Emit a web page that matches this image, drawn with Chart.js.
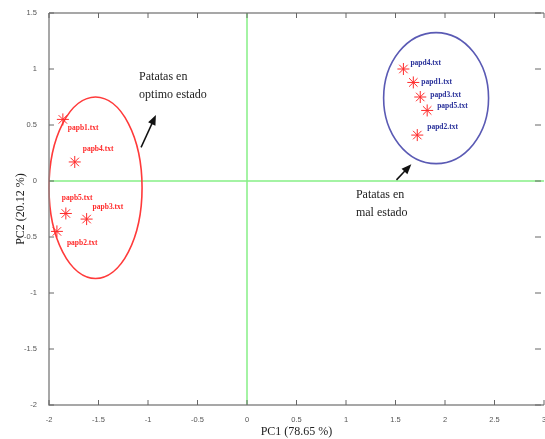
<!DOCTYPE html>
<html>
<head>
<meta charset="utf-8">
<script src="https://cdn.jsdelivr.net/npm/chart.js@4"></script>
<style>
  html, body { margin: 0; padding: 0; background: #fff; }
  #wrap { width: 545px; height: 439px; overflow: hidden; }
  #inner { width: 551px; height: 439px; }
</style>
</head>
<body>
<div id="wrap"><div id="inner"><canvas id="pca"></canvas></div></div>
<script>
// PCA scores
const goodNames = ['papb1.txt', 'papb4.txt', 'papb5.txt', 'papb3.txt', 'papb2.txt'];
const goodPC1 = [-1.86, -1.74, -1.83, -1.62, -1.92];
const goodPC2 = [0.55, 0.17, -0.29, -0.34, -0.45];

const badNames = ['papd4.txt', 'papd1.txt', 'papd3.txt', 'papd5.txt', 'papd2.txt'];
const badPC1 = [1.58, 1.68, 1.75, 1.82, 1.72];
const badPC2 = [1.00, 0.88, 0.75, 0.63, 0.41];

const xTicks = [-2, -1.5, -1, -0.5, 0, 0.5, 1, 1.5, 2, 2.5, 3];
const yTicks = [-2, -1.5, -1, -0.5, 0, 0.5, 1, 1.5];

// group ellipses: [centre pc1, centre pc2, radius pc1, radius pc2]
const goodEllipse = [-1.53, -0.06, 0.47, 0.81];
const badEllipse = [1.91, 0.74, 0.53, 0.585];

// annotations (data units)
const goodNote = ['Patatas en', 'optimo estado'];
const goodNoteAt = [-1.09, 0.93];
const goodArrow = [-1.07, 0.30, -0.92, 0.59];
const badNote = ['Patatas en', 'mal estado'];
const badNoteAt = [1.10, -0.125];
const badArrow = [1.51, 0.01, 1.66, 0.15];

// pixel offsets of the file names from their markers
const goodLabelOffsets = [[5, 9], [8, -13], [-4, -15], [6, -12], [10, 12]];
const badLabelOffsets = [[7, -6], [8, 0], [10, -2], [10, -4], [10, -8]];

const red = '#ff2a2a';
const blue = '#28309a';
const axisGrey = '#8a8a8a';
const green = '#86f086';

function toPoints(xs, ys) {
  return xs.map((x, i) => ({ x: x, y: ys[i] }));
}

const extras = {
  id: 'extras',
  beforeDatasetsDraw(chart) {
    const { ctx, scales: { x, y }, chartArea } = chart;
    ctx.save();
    // green zero lines
    ctx.strokeStyle = green;
    ctx.lineWidth = 1.5;
    ctx.beginPath();
    ctx.moveTo(x.getPixelForValue(0), chartArea.top);
    ctx.lineTo(x.getPixelForValue(0), chartArea.bottom);
    ctx.moveTo(chartArea.left, y.getPixelForValue(0));
    ctx.lineTo(chartArea.right, y.getPixelForValue(0));
    ctx.stroke();

    // ellipses
    [[goodEllipse, '#ff3a3a'], [badEllipse, '#5a5ab4']].forEach(([e, col]) => {
      const cx = x.getPixelForValue(e[0]);
      const cy = y.getPixelForValue(e[1]);
      const rx = Math.abs(x.getPixelForValue(e[0] + e[2]) - cx);
      const ry = Math.abs(y.getPixelForValue(e[1] + e[3]) - cy);
      ctx.strokeStyle = col;
      ctx.lineWidth = 1.6;
      ctx.beginPath();
      ctx.ellipse(cx, cy, rx, ry, 0, 0, Math.PI * 2);
      ctx.stroke();
    });

    // axis frame
    ctx.strokeStyle = axisGrey;
    ctx.lineWidth = 1.5;
    ctx.beginPath();
    ctx.moveTo(chartArea.left, chartArea.top);
    ctx.lineTo(chartArea.right, chartArea.top);
    ctx.moveTo(chartArea.left, chartArea.top);
    ctx.lineTo(chartArea.left, chartArea.bottom);
    ctx.lineTo(chartArea.right, chartArea.bottom);
    ctx.stroke();

    // inward tick marks
    ctx.lineWidth = 1;
    ctx.strokeStyle = '#666';
    ctx.beginPath();
    xTicks.forEach(v => {
      const px = x.getPixelForValue(v);
      ctx.moveTo(px, chartArea.bottom);
      ctx.lineTo(px, chartArea.bottom - 5);
      ctx.moveTo(px, chartArea.top);
      ctx.lineTo(px, chartArea.top + 5);
    });
    yTicks.forEach(v => {
      const py = y.getPixelForValue(v);
      ctx.moveTo(chartArea.left, py);
      ctx.lineTo(chartArea.left + 5, py);
      ctx.moveTo(chartArea.right - 3, py);
      ctx.lineTo(chartArea.right - 9, py);
    });
    ctx.stroke();
    ctx.restore();
  },
  afterDatasetsDraw(chart) {
    const { ctx, scales: { x, y } } = chart;
    ctx.save();
    ctx.font = 'bold 7.5px "Liberation Serif"';
    ctx.textBaseline = 'middle';
    ctx.textAlign = 'left';
    ctx.fillStyle = red;
    goodNames.forEach((n, i) => {
      ctx.fillText(n, x.getPixelForValue(goodPC1[i]) + goodLabelOffsets[i][0],
        y.getPixelForValue(goodPC2[i]) + goodLabelOffsets[i][1]);
    });
    ctx.fillStyle = blue;
    badNames.forEach((n, i) => {
      ctx.fillText(n, x.getPixelForValue(badPC1[i]) + badLabelOffsets[i][0],
        y.getPixelForValue(badPC2[i]) + badLabelOffsets[i][1]);
    });

    // notes
    ctx.font = '12px "Liberation Serif"';
    ctx.fillStyle = '#222';
    [[goodNote, goodNoteAt], [badNote, badNoteAt]].forEach(([lines, at]) => {
      const px = x.getPixelForValue(at[0]);
      const py = y.getPixelForValue(at[1]);
      lines.forEach((l, k) => ctx.fillText(l, px, py + k * 18));
    });

    // arrows
    [goodArrow, badArrow].forEach(a => {
      const x0 = x.getPixelForValue(a[0]), y0 = y.getPixelForValue(a[1]);
      const x1 = x.getPixelForValue(a[2]), y1 = y.getPixelForValue(a[3]);
      const ang = Math.atan2(y1 - y0, x1 - x0);
      ctx.strokeStyle = '#111';
      ctx.fillStyle = '#111';
      ctx.lineWidth = 1.5;
      ctx.beginPath();
      ctx.moveTo(x0, y0);
      ctx.lineTo(x1 - 6 * Math.cos(ang), y1 - 6 * Math.sin(ang));
      ctx.stroke();
      ctx.beginPath();
      ctx.moveTo(x1, y1);
      ctx.lineTo(x1 - 10 * Math.cos(ang) + 4 * Math.sin(ang), y1 - 10 * Math.sin(ang) - 4 * Math.cos(ang));
      ctx.lineTo(x1 - 10 * Math.cos(ang) - 4 * Math.sin(ang), y1 - 10 * Math.sin(ang) + 4 * Math.cos(ang));
      ctx.closePath();
      ctx.fill();
    });
    ctx.restore();
  }
};

const tickFont = { family: 'Arial, "Liberation Sans"', size: 7.5 };
const titleFont = { family: '"Liberation Serif"', size: 12 };

new Chart(document.getElementById('pca'), {
  type: 'scatter',
  data: {
    datasets: [
      {
        label: 'optimo',
        data: toPoints(goodPC1, goodPC2),
        pointStyle: 'star',
        pointRadius: 6,
        borderColor: red,
        backgroundColor: red,
        borderWidth: 1
      },
      {
        label: 'mal',
        data: toPoints(badPC1, badPC2),
        pointStyle: 'star',
        pointRadius: 6,
        borderColor: red,
        backgroundColor: red,
        borderWidth: 1
      }
    ]
  },
  options: {
    responsive: true,
    maintainAspectRatio: false,
    animation: false,
    layout: { padding: { top: 13, left: 0, right: 0, bottom: 0 } },
    plugins: {
      legend: { display: false },
      tooltip: { enabled: false }
    },
    scales: {
      x: {
        type: 'linear',
        min: -2,
        max: 3,
        afterBuildTicks: s => { s.ticks = xTicks.map(v => ({ value: v })); },
        afterFit: s => { s.height = 34; },
        grid: { display: false },
        border: { display: false },
        ticks: { color: '#555', font: tickFont, padding: 2, maxRotation: 0, callback: v => String(v) },
        title: {
          display: true,
          text: 'PC1 (78.65 %)',
          color: '#222',
          font: titleFont,
          padding: { top: 2, bottom: 0 }
        }
      },
      y: {
        type: 'linear',
        min: -2,
        max: 1.5,
        afterBuildTicks: s => { s.ticks = yTicks.map(v => ({ value: v })); },
        afterFit: s => { s.width = 49; },
        grid: { display: false },
        border: { display: false },
        ticks: { color: '#555', font: tickFont, padding: 4, callback: v => String(v) },
        title: {
          display: true,
          text: 'PC2 (20.12 %)',
          color: '#222',
          font: titleFont,
          padding: { top: 14, bottom: 0 }
        }
      }
    }
  },
  plugins: [extras]
});
</script>
</body>
</html>
